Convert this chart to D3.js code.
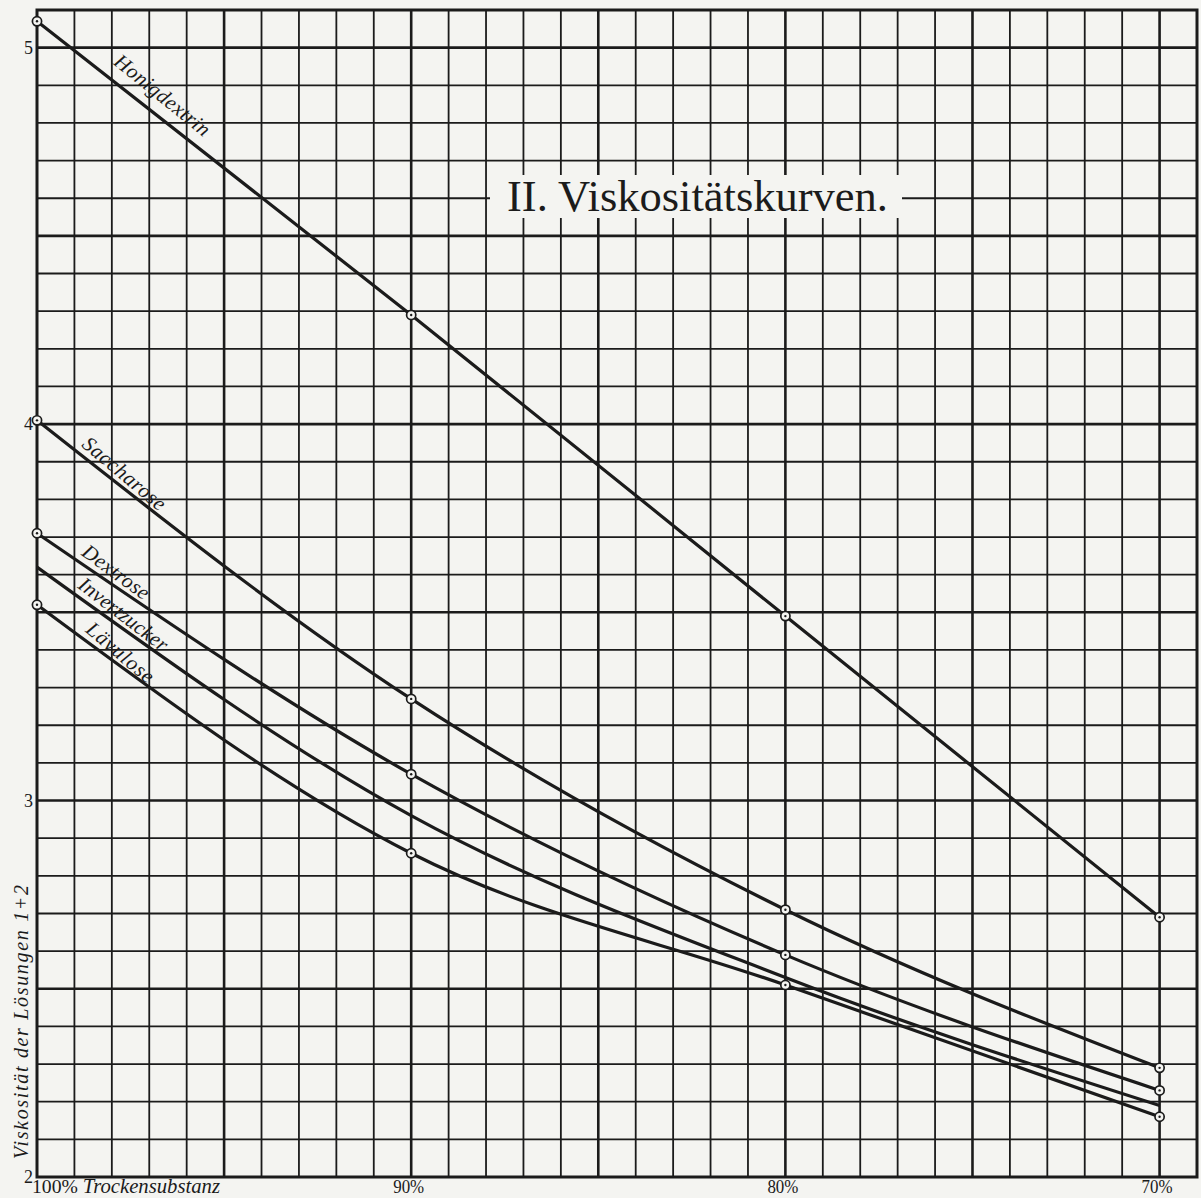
<!DOCTYPE html>
<html>
<head>
<meta charset="utf-8">
<script src="https://cdn.jsdelivr.net/npm/d3@7"></script>
<style>
  body { margin: 0; background: #f4f4f1; }
  svg { display: block; }
</style>
</head>
<body>
<div id="plot"></div>
<script>
// values (x = % Trockensubstanz, y = Viskosität)
const percents = [100, 90, 80, 70];
const honigdextrin = [5.07, 4.29, 3.49, 2.69];
const saccharose = [4.01, 3.27, 2.71, 2.29];
const dextrose = [3.71, 3.07, 2.59, 2.23];
const invertzucker = [3.62, 2.96, 2.53, 2.19];
const laevulose = [3.52, 2.86, 2.51, 2.16];

const seriesNames = ["Honigdextrin", "Saccharose", "Dextrose", "Invertzucker", "Lävulose"];
const seriesValues = [honigdextrin, saccharose, dextrose, invertzucker, laevulose];
const seriesCircles = [true, true, true, false, true];

const yTicks = [2, 3, 4, 5];
const xTicks = [90, 80, 70];
const xTickLabels = ["90%", "80%", "70%"];

const svgWidth = 1201;
const svgHeight = 1198;
const ink = "#1b1b1b";
const paper = "#f4f4f1";
const serif = "'Liberation Serif', 'DejaVu Serif', serif";

var svg = d3.select("#plot")
	.append("svg")
	.attr("width", svgWidth)
	.attr("height", svgHeight);

svg.append("rect")
	.attr("width", svgWidth)
	.attr("height", svgHeight)
	.attr("fill", paper);

var x = d3.scaleLinear()
	.domain([100, 69])
	.range([37, 1197]);

var y = d3.scaleLinear()
	.domain([2, 5.1])
	.range([1177, 10]);

// grid, every 5th line a bit heavier
var grid = svg.append("g");

grid.selectAll(".vline")
	.data(d3.range(70, 100))
	.enter()
	.append("line")
		.attr("x1", d => x(d))
		.attr("x2", d => x(d))
		.attr("y1", y(5.1))
		.attr("y2", y(2))
		.attr("stroke", ink)
		.attr("stroke-width", d => d % 5 == 0 ? 2.6 : 1.8);

grid.selectAll(".hline")
	.data(d3.range(21, 51))
	.enter()
	.append("line")
		.attr("x1", x(100))
		.attr("x2", x(69))
		.attr("y1", d => y(d / 10))
		.attr("y2", d => y(d / 10))
		.attr("stroke", ink)
		.attr("stroke-width", d => d % 5 == 0 ? 2.6 : 1.8);

grid.append("rect")
	.attr("x", x(100))
	.attr("y", y(5.1))
	.attr("width", x(69) - x(100))
	.attr("height", y(2) - y(5.1))
	.attr("fill", "none")
	.attr("stroke", ink)
	.attr("stroke-width", 3);

// title on a blank patch of the grid
svg.append("rect")
	.attr("x", 490)
	.attr("y", 175)
	.attr("width", 412)
	.attr("height", 43)
	.attr("fill", paper);

svg.append("text")
	.attr("x", 507)
	.attr("y", 211)
	.attr("textLength", 381)
	.attr("lengthAdjust", "spacingAndGlyphs")
	.style("font-family", serif)
	.style("font-size", "45px")
	.attr("fill", ink)
	.text("II. Viskositätskurven.");

// Y axis ticks
var yAxis = svg.append("g")
	.attr("transform", "translate(" + x(100) + ",0)")
	.call(d3.axisLeft(y).tickValues(yTicks).tickSize(0).tickPadding(4).tickFormat(d3.format("d")));
yAxis.select(".domain").remove();
yAxis.selectAll("text")
	.style("font-family", serif)
	.style("font-size", "18px")
	.attr("fill", ink);

// X axis ticks
var xAxis = svg.append("g")
	.attr("transform", "translate(0," + y(2) + ")")
	.call(d3.axisBottom(x).tickValues(xTicks).tickSize(0).tickPadding(2).tickFormat((d, i) => xTickLabels[i]));
xAxis.select(".domain").remove();
xAxis.selectAll("text")
	.attr("dx", "-3")
	.attr("textLength", 31)
	.attr("lengthAdjust", "spacingAndGlyphs")
	.style("font-family", serif)
	.style("font-size", "19px")
	.attr("fill", ink);

var firstLabel = svg.append("text")
	.attr("x", x(100) - 5)
	.attr("y", 1193)
	.attr("textLength", 188)
	.attr("lengthAdjust", "spacingAndGlyphs")
	.style("font-family", serif)
	.style("font-size", "19px")
	.attr("fill", ink);
firstLabel.append("tspan").text("100% ");
firstLabel.append("tspan").style("font-style", "italic").style("font-size", "20px").text("Trockensubstanz");

// Y axis title
svg.append("text")
	.attr("transform", "translate(28,1022) rotate(-90)")
	.attr("text-anchor", "middle")
	.attr("textLength", 274)
	.attr("lengthAdjust", "spacing")
	.style("font-family", serif)
	.style("font-style", "italic")
	.style("font-size", "20px")
	.attr("fill", ink)
	.text("Viskosität der Lösungen 1+2");

// curves
var line = d3.line()
	.x((d, i) => x(percents[i]))
	.y(d => y(d))
	.curve(d3.curveMonotoneX);

var curves = svg.append("g");
var paths = curves.selectAll(".curve")
	.data(seriesValues)
	.enter()
	.append("path")
		.attr("class", "curve")
		.attr("d", line)
		.attr("fill", "none")
		.attr("stroke", ink)
		.attr("stroke-width", 3.2);

// small ring markers at the measured points
seriesValues.forEach(function(vals, s) {
	if (!seriesCircles[s]) return;
	var g = svg.append("g");
	g.selectAll("circle.ring")
		.data(vals)
		.enter()
		.append("circle")
			.attr("cx", (d, i) => x(percents[i]))
			.attr("cy", d => y(d))
			.attr("r", 4.6)
			.attr("fill", paper)
			.attr("stroke", ink)
			.attr("stroke-width", 1.7);
	g.selectAll("circle.dot")
		.data(vals)
		.enter()
		.append("circle")
			.attr("cx", (d, i) => x(percents[i]))
			.attr("cy", d => y(d))
			.attr("r", 1.2)
			.attr("fill", ink);
});

// labels written along the curves
const labelStart = [98.2, 98.95, 98.95, 99.05, 98.85];
const labelLength = [117, 102, 78, 107, 82];
const labelGap = [13, 7, 7, 7, 7];
const labelTilt = [1, 2, 2, 2, 4];

function lengthAtX(node, px) {
	var lo = 0, hi = node.getTotalLength();
	for (var k = 0; k < 40; k++) {
		var mid = (lo + hi) / 2;
		if (node.getPointAtLength(mid).x < px) lo = mid; else hi = mid;
	}
	return lo;
}

paths.each(function(d, s) {
	var node = this;
	var l0 = lengthAtX(node, x(labelStart[s]));
	var p0 = node.getPointAtLength(l0);
	var p1 = node.getPointAtLength(l0 + labelLength[s]);
	var a = Math.atan2(p1.y - p0.y, p1.x - p0.x) + labelTilt[s] * Math.PI / 180;
	var ox = p0.x + labelGap[s] * Math.sin(a);
	var oy = p0.y - labelGap[s] * Math.cos(a);
	svg.append("text")
		.attr("transform", "translate(" + ox + "," + oy + ") rotate(" + (a * 180 / Math.PI) + ")")
		.attr("textLength", labelLength[s])
		.attr("lengthAdjust", "spacing")
		.style("font-family", serif)
		.style("font-style", "italic")
		.style("font-size", "21px")
		.attr("fill", ink)
		.text(seriesNames[s]);
});
</script>
</body>
</html>
